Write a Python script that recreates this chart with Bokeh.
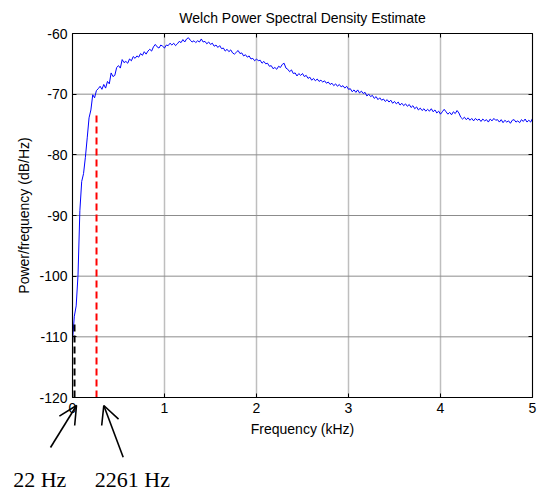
import numpy as np
from bokeh.plotting import figure
from bokeh.models import Range1d, LinearAxis, Arrow, OpenHead, FixedTicker
from bokeh.core.properties import value
from bokeh.embed import file_html
from bokeh.resources import INLINE

# Welch PSD estimate, one value every 20 Hz from 0 to 5 kHz (dB/Hz)
psd_step_khz = 0.02
psd_db = [
    -110.6, -106.6, -104.9, -99.8, -89.2, -84.4, -83.1, -80.4, -77.2, -73.9,
    -72.6, -70.1, -70.6, -69.4, -69.1, -68.7, -69.2, -68.4, -69.0, -67.9,
    -68.3, -66.5, -67.1, -66.9, -65.6, -65.3, -65.7, -64.3, -64.8, -64.6,
    -64.9, -64.2, -64.5, -63.8, -64.1, -63.7, -63.9, -63.3, -63.6, -63.0,
    -63.4, -62.9, -62.6, -62.9, -62.2, -61.8, -62.2, -62.4, -61.9, -62.1,
    -62.4, -61.9, -62.0, -61.6, -61.9, -61.6, -62.0, -61.7, -61.3, -61.5,
    -61.0, -61.4, -60.9, -60.7, -61.1, -61.4, -61.2, -61.5, -61.2, -61.4,
    -60.9, -61.4, -61.3, -61.7, -61.4, -61.8, -61.6, -62.1, -61.9, -62.3,
    -62.0, -62.5, -62.4, -62.9, -62.6, -63.0, -62.7, -63.2, -63.4, -63.1,
    -62.8, -63.3, -63.2, -63.7, -63.5, -63.9, -63.7, -64.2, -64.1, -64.5,
    -64.2, -64.5, -64.4, -64.9, -64.6, -65.0, -64.9, -65.4, -65.3, -65.8,
    -65.6, -65.9, -65.4, -65.6, -65.1, -64.9, -65.7, -65.9, -66.3, -66.0,
    -66.6, -66.5, -67.0, -66.6, -66.9, -66.6, -67.1, -66.9, -67.4, -67.2,
    -67.7, -67.4, -67.8, -67.5, -67.9, -67.7, -68.0, -67.8, -68.2, -68.0,
    -68.4, -68.2, -68.6, -68.3, -68.7, -68.4, -68.8, -68.6, -69.0, -68.7,
    -69.2, -69.1, -69.6, -69.3, -69.7, -69.3, -69.8, -69.5, -69.9, -69.7,
    -70.3, -70.0, -70.4, -70.2, -70.7, -70.4, -70.9, -70.6, -71.0, -70.8,
    -71.2, -70.9, -71.3, -71.0, -71.5, -71.2, -71.6, -71.3, -71.8, -71.5,
    -71.9, -71.6, -72.0, -71.7, -72.2, -71.9, -72.4, -72.1, -72.6, -72.3,
    -72.7, -72.4, -72.8, -72.5, -72.8, -72.4, -72.9, -72.6, -73.1, -72.8,
    -73.3, -72.9, -72.5, -72.9, -73.3, -73.0, -73.4, -72.9, -73.2, -72.7,
    -73.1, -73.8, -74.1, -73.8, -74.2, -73.9, -74.3, -74.0, -74.4, -74.0,
    -74.3, -74.1, -74.5, -74.1, -74.4, -74.2, -74.6, -74.1, -74.4, -74.0,
    -74.3, -74.2, -74.6, -74.2, -74.7, -74.3, -74.6, -74.4, -74.8, -74.3,
    -74.2, -74.6, -74.4, -74.7, -74.2, -74.5, -74.1, -74.6, -74.3, -74.6,
    -74.0,
]
freq_khz = np.round(np.arange(len(psd_db)) * psd_step_khz, 3)

# Marker lines for the two cut-off frequencies
marker_khz = [0.022, 0.261]
marker_top_db = [-107.5, -73.0]
marker_colors = ["black", "red"]
marker_labels = ["22 Hz", "2261 Hz"]

x_ticks = [0, 1, 2, 3, 4, 5]
y_ticks = [-120, -110, -100, -90, -80, -70, -60]

SANS = "Liberation Sans"
SERIF = "Liberation Serif"

# Page and axes box, in pixels from the top-left corner
W, H = 540, 493
BOX_L, BOX_R, BOX_T, BOX_B = 72, 532, 33, 397
X0, X1 = 0, 5
Y0, Y1 = -120, -60
kx = (BOX_R - BOX_L) / (X1 - X0)
ky = (BOX_B - BOX_T) / (Y1 - Y0)


def to_x(px):
    return X0 + (px - BOX_L) / kx


def to_y(py):
    return Y1 - (py - BOX_T) / ky


# The frame fills the whole page so that the notes under the axes stay visible;
# the axes are pinned to the edges of the data box.
p = figure(
    width=W, height=H,
    x_range=Range1d(to_x(0), to_x(W)), y_range=Range1d(to_y(H), to_y(0)),
    output_backend="svg", toolbar_location=None,
    x_axis_location=None, y_axis_location=None,
    min_border=0, min_border_left=0, min_border_right=0,
    min_border_top=0, min_border_bottom=0,
)
p.outline_line_color = None
p.background_fill_color = "white"
p.border_fill_color = "white"
p.grid.visible = False

# Grid lines inside the data box
p.segment(x0=x_ticks, y0=[Y0] * len(x_ticks), x1=x_ticks, y1=[Y1] * len(x_ticks),
          line_color="#bebebe", line_width=1.5)
p.segment(x0=[X0] * len(y_ticks), y0=y_ticks, x1=[X1] * len(y_ticks), y1=y_ticks,
          line_color="#8c8c8c", line_width=1)

# PSD curve
p.line(freq_khz, psd_db, line_color="#0000ff", line_width=1)

# Dashed marker lines from the bottom of the axes up to the curve
p.segment(
    x0=marker_khz, y0=[Y0, Y0], x1=marker_khz, y1=marker_top_db,
    line_color=marker_colors, line_width=2, line_dash="7 4",
)


def box_axis(side, loc, bounds, ticks, label=None):
    ax = LinearAxis(fixed_location=loc, bounds=bounds, ticker=FixedTicker(ticks=ticks))
    ax.axis_line_color = "black"
    ax.axis_line_width = 1
    ax.major_tick_line_color = "black"
    ax.major_tick_in = 4
    ax.major_tick_out = 0
    ax.minor_tick_line_color = None
    if label is None:
        ax.major_label_text_color = None
    else:
        ax.major_label_overrides = {t: str(t) for t in ticks}
        ax.major_label_text_font = SANS
        ax.major_label_text_font_size = "14px"
        ax.major_label_text_color = "black"
        ax.major_label_standoff = 5
        ax.axis_label = label
        ax.axis_label_text_font = SANS
        ax.axis_label_text_font_size = "14px"
        ax.axis_label_text_font_style = "normal"
        ax.axis_label_text_color = "black"
    p.add_layout(ax, side)
    return ax


xa = box_axis("below", Y0, (X0, X1), x_ticks, "Frequency (kHz)")
xa.axis_label_standoff = 5
ya = box_axis("left", X0, (Y0, Y1), y_ticks, "Power/frequency (dB/Hz)")
ya.axis_label_standoff = 4
box_axis("above", Y1, (X0, X1), x_ticks)
box_axis("right", X1, (Y0, Y1), y_ticks)

# Title
p.text(
    x=[(X0 + X1) / 2], y=[to_y(9.5)], text=["Welch Power Spectral Density Estimate"],
    text_font=value(SANS), text_font_size=value("14px"), text_color="black",
    text_align="center", text_baseline="top",
)

# Arrows and captions under the axes
arrow_tails = [(50, 447), (122.7, 456.7)]
arrow_tips = [(76, 405), (103.3, 405)]
for (xs, ys), (xe, ye) in zip(arrow_tails, arrow_tips):
    p.add_layout(Arrow(
        end=OpenHead(size=18, line_width=1.6, line_color="black"),
        x_start=to_x(xs), y_start=to_y(ys), x_end=to_x(xe), y_end=to_y(ye),
        line_color="black", line_width=1.6,
    ))

caption_left_px = [12.7, 94.3]
p.text(
    x=[to_x(c) for c in caption_left_px], y=[to_y(466.5)] * 2, text=marker_labels,
    text_font=value(SERIF), text_font_size=value("22px"), text_color="black",
    text_align="left", text_baseline="top",
)

open("out.html", "w").write(file_html(p, INLINE))
